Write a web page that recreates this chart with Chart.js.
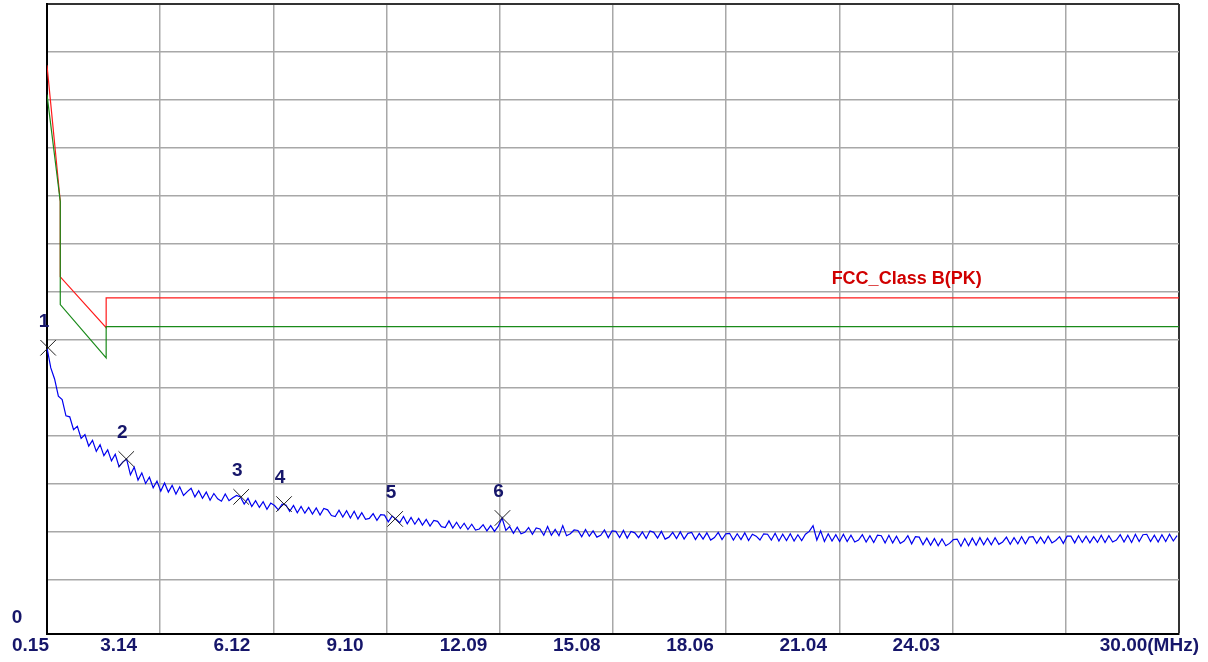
<!DOCTYPE html>
<html>
<head>
<meta charset="utf-8">
<script src="https://cdn.jsdelivr.net/npm/chart.js@4"></script>
<style>
  html, body { margin: 0; padding: 0; background: #fff; }
</style>
</head>
<body>
<canvas id="chart" width="1208" height="662"></canvas>
<script>
// x grid (MHz) and its labels
const xTickValues = [0.15, 3.135, 6.12, 9.105, 12.09, 15.075, 18.06, 21.045, 24.03, 27.015, 30];
const xTickLabels = ["0.15", "3.14", "6.12", "9.10", "12.09", "15.08", "18.06", "21.04", "24.03", "", "30.00(MHz)"];

// y grid (level), bottom line is 0
const yGridValues = [0, 11.4, 21.4, 31.4, 41.4, 51.4, 61.4, 71.4, 81.4, 91.4, 101.4, 111.4, 121.4, 131.4];

// limit lines
const peakLimitFreq = [0.15, 0.5, 0.5, 1.71, 1.71, 30];
const peakLimitLevel = [118.6, 90.2, 74.5, 63.9, 70.1, 70.1];
const avgLimitFreq = [0.15, 0.5, 0.5, 1.71, 1.71, 30];
const avgLimitLevel = [112.5, 90.2, 68.7, 57.6, 64.1, 64.1];

// measured trace, one reading every 0.1 MHz from 0.15 MHz
const traceStart = 0.15;
const traceStep = 0.1;
const traceLevel = [
  59.7, 55.5, 53.2, 49.6, 48.9, 45.5, 45.3, 42.6, 43.3, 40.8,
  41.6, 39.2, 40.4, 38.1, 39.5, 37.2, 38.4, 36.1, 37.5, 34.9,
  35.9, 36.5, 33.2, 34.8, 32.1, 33.6, 31.4, 32.7, 30.5, 31.9,
  29.8, 31.5, 29.6, 31.0, 29.2, 30.7, 28.9, 29.7, 30.4, 28.6,
  29.9, 28.3, 29.6, 27.9, 29.3, 28.2, 27.7, 29.2, 27.8, 28.4,
  28.9, 28.6, 27.1, 28.3, 26.6, 27.8, 26.4, 27.6, 26.0, 27.3,
  26.8, 25.9, 27.1, 26.9, 25.6, 26.8, 25.3, 26.6, 25.2, 26.4,
  25.0, 26.3, 24.8, 26.2, 25.9, 24.7, 24.5, 25.8, 24.4, 25.7,
  24.2, 25.6, 24.0, 25.3, 23.9, 24.1, 25.1, 23.7, 24.9, 24.8,
  23.4, 24.6, 24.0, 23.2, 24.5, 23.0, 24.3, 22.9, 24.1, 22.7,
  23.9, 22.5, 23.7, 23.5, 22.4, 22.2, 23.6, 22.1, 23.3, 22.0,
  23.1, 21.8, 22.9, 21.7, 21.9, 22.8, 21.5, 22.6, 21.4, 22.5,
  24.2, 21.6, 22.4, 21.0, 22.3, 20.9, 21.2, 22.2, 20.8, 22.1,
  21.9, 20.6, 22.4, 20.6, 21.8, 20.5, 22.6, 20.5, 20.9, 21.7,
  21.6, 20.3, 21.8, 20.4, 21.5, 20.2, 20.6, 21.7, 20.1, 21.5,
  21.4, 20.1, 21.6, 20.0, 21.4, 21.1, 20.1, 21.3, 19.9, 21.5,
  21.2, 20.0, 21.4, 19.8, 20.2, 21.2, 19.9, 21.3, 19.8, 21.0,
  21.2, 19.7, 21.0, 19.8, 21.1, 19.6, 20.1, 21.2, 19.7, 20.9,
  21.0, 19.6, 20.9, 19.7, 21.1, 19.5, 20.8, 20.4, 19.6, 20.9,
  20.8, 19.6, 21.0, 19.4, 20.8, 19.5, 20.9, 19.4, 20.7, 19.5,
  20.8, 21.4, 22.6, 19.6, 21.5, 19.3, 20.9, 19.4, 20.7, 19.3,
  20.8, 19.3, 20.6, 19.2, 19.6, 20.7, 19.2, 20.5, 19.1, 20.6,
  20.5, 19.0, 20.6, 19.0, 20.4, 18.9, 19.4, 20.5, 18.8, 20.3,
  20.2, 18.6, 20.0, 18.5, 19.9, 18.4, 19.8, 18.4, 18.9, 19.7,
  19.8, 18.3, 19.9, 18.4, 20.0, 18.5, 20.1, 18.6, 20.0, 18.6,
  20.1, 18.7, 19.2, 20.2, 18.7, 20.1, 18.8, 20.3, 18.8, 20.2,
  20.3, 18.9, 20.2, 18.9, 20.4, 19.0, 19.5, 20.3, 18.9, 20.4,
  20.4, 19.0, 20.5, 19.1, 20.4, 19.0, 20.3, 19.1, 20.6, 19.1,
  20.5, 19.2, 19.6, 20.7, 19.2, 20.6, 19.1, 20.8, 19.3, 20.7,
  20.8, 19.3, 20.6, 19.2, 20.7, 19.3, 20.8, 19.4, 20.5
];

// markers
const markerFreq = [0.18, 2.24, 5.27, 6.40, 9.33, 12.16];
const markerLevel = [59.7, 36.5, 28.6, 27.1, 24.0, 24.2];
const markerNames = ["1", "2", "3", "4", "5", "6"];

const limitName = "FCC_Class B(PK)";

const toPoints = (xs, ys) => xs.map((x, i) => ({ x: x, y: ys[i] }));
const tracePoints = traceLevel.map((v, i) => ({ x: traceStart + i * traceStep, y: v }));

const labelFont = "bold 19px 'Liberation Sans', Arial, sans-serif";
const labelColor = "#16166a";

// Text drawn on top: x labels, "0", marker numbers, limit name
const textPlugin = {
  id: "chartText",
  afterDatasetsDraw(chart) {
    const { ctx, chartArea, scales } = chart;
    const x = scales.x;
    const y = scales.y;
    ctx.save();
    ctx.font = labelFont;
    ctx.fillStyle = labelColor;
    ctx.textBaseline = "middle";
    const labelY = chartArea.bottom + 12;
    xTickValues.forEach((v, i) => {
      const text = xTickLabels[i];
      if (!text) return;
      const px = x.getPixelForValue(v);
      if (i === 0) {
        ctx.textAlign = "left";
        ctx.fillText(text, px - 35, labelY);
      } else if (i === xTickValues.length - 1) {
        ctx.textAlign = "right";
        ctx.fillText(text, px + 20, labelY);
      } else {
        ctx.textAlign = "left";
        ctx.fillText(text, px - 60, labelY);
      }
    });
    ctx.textAlign = "center";
    ctx.fillText("0", chartArea.left - 30, y.getPixelForValue(0) - 16);

    markerNames.forEach((name, i) => {
      ctx.fillText(name, x.getPixelForValue(markerFreq[i]) - 4, y.getPixelForValue(markerLevel[i]) - 26);
    });

    ctx.font = "bold 18px 'Liberation Sans', Arial, sans-serif";
    ctx.fillStyle = "#d00000";
    ctx.textAlign = "left";
    ctx.fillText(limitName, x.getPixelForValue(20.84), y.getPixelForValue(peakLimitLevel[5]) - 19);
    ctx.restore();
  },
};

new Chart(document.getElementById("chart"), {
  type: "scatter",
  data: {
    datasets: [
      {
        label: "Markers",
        data: toPoints(markerFreq, markerLevel),
        pointStyle: "crossRot",
        pointRadius: 11,
        borderColor: "#222",
        borderWidth: 1,
        showLine: false,
        clip: false,
      },
      {
        label: "Trace",
        data: tracePoints,
        showLine: true,
        borderColor: "#0000f0",
        borderWidth: 1.2,
        pointRadius: 0,
      },
      {
        label: "AV limit",
        data: toPoints(avgLimitFreq, avgLimitLevel),
        showLine: true,
        borderColor: "#1a8a1a",
        borderWidth: 1.2,
        pointRadius: 0,
      },
      {
        label: "PK limit",
        data: toPoints(peakLimitFreq, peakLimitLevel),
        showLine: true,
        borderColor: "#ff1a1a",
        borderWidth: 1.2,
        pointRadius: 0,
      },
    ],
  },
  options: {
    responsive: false,
    animation: false,
    layout: { autoPadding: false, padding: { left: 47, right: 29, top: 4, bottom: 28 } },
    plugins: { legend: { display: false }, tooltip: { enabled: false } },
    scales: {
      x: {
        type: "linear",
        min: 0.15,
        max: 30,
        afterBuildTicks: (s) => { s.ticks = xTickValues.map((v) => ({ value: v })); },
        ticks: { display: false },
        grid: {
          drawTicks: false,
          color: (c) => (c.index === xTickValues.length - 1 ? "#333" : "#a8a8a8"),
          lineWidth: (c) => (c.index === xTickValues.length - 1 ? 2 : 1.5),
        },
        border: { color: "#000", width: 2 },
      },
      y: {
        min: 0,
        max: 131.4,
        afterBuildTicks: (s) => { s.ticks = yGridValues.map((v) => ({ value: v })); },
        ticks: { display: false },
        grid: {
          drawTicks: false,
          color: (c) => (c.index === yGridValues.length - 1 ? "#333" : "#a8a8a8"),
          lineWidth: (c) => (c.index === yGridValues.length - 1 ? 2 : 1.5),
        },
        border: { color: "#000", width: 2 },
      },
    },
  },
  plugins: [textPlugin],
});
</script>
</body>
</html>
